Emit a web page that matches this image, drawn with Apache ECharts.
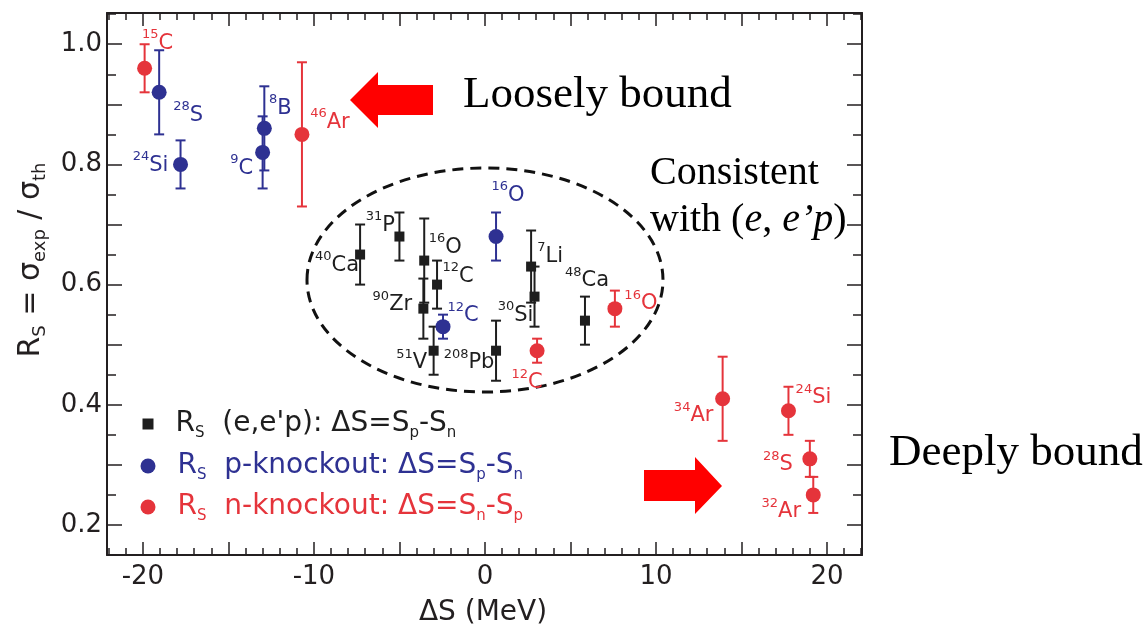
<!DOCTYPE html>
<html><head><meta charset="utf-8">
<script src="https://cdn.jsdelivr.net/npm/echarts@6/dist/echarts.min.js"></script>
<style>html,body{margin:0;padding:0;background:#fff}#c{width:1148px;height:630px}</style>
</head><body><div id="c"></div>
<script>
// ---------- data ----------
// (e,e'p) : black squares
const eepNames = ['40Ca','31P','16O','12C','90Zr','51V','208Pb','7Li','30Si','48Ca'];
const eepDS    = [-7.3, -5.0, -3.55, -2.8, -3.6, -3.0, 0.65, 2.7, 2.9, 5.85];
const eepRs    = [0.65, 0.68, 0.64, 0.60, 0.56, 0.49, 0.49, 0.63, 0.58, 0.54];
const eepErr   = [0.05, 0.04, 0.07, 0.04, 0.05, 0.04, 0.05, 0.06, 0.05, 0.04];
// p-knockout : blue circles
const pkoNames = ['28S','24Si','8B','9C','16O','12C'];
const pkoDS    = [-19.05, -17.8, -12.9, -13.0, 0.65, -2.45];
const pkoRs    = [0.92, 0.80, 0.86, 0.82, 0.68, 0.53];
const pkoErr   = [0.07, 0.04, 0.07, 0.06, 0.04, 0.02];
// n-knockout : red circles
const nkoNames = ['15C','46Ar','16O','12C','34Ar','24Si','28S','32Ar'];
const nkoDS    = [-19.9, -10.7, 7.6, 3.05, 13.9, 17.75, 19.0, 19.2];
const nkoRs    = [0.96, 0.85, 0.56, 0.49, 0.41, 0.39, 0.31, 0.25];
const nkoErr   = [0.04, 0.12, 0.03, 0.02, 0.07, 0.04, 0.03, 0.03];
// axis ticks / labels
const xLabelVals = [-20, -10, 0, 10, 20];
const xMajorTicks = [-20, -15, -10, -5, 0, 5, 10, 15, 20];
const yLabelVals = [0.2, 0.4, 0.6, 0.8, 1.0];
const yMajorTicks = [0.2, 0.3, 0.4, 0.5, 0.6, 0.7, 0.8, 0.9, 1.0];
const xMinorTicks = []; for (let v = -22; v <= 22; v++) xMinorTicks.push(v);
const yMinorTicks = []; for (let k = 3; k <= 21; k += 2) yMinorTicks.push(+(k * 0.05).toFixed(2));

// ---------- styling / layout ----------
const X_MIN = -22.1, X_MAX = 22.05, Y_MIN = 0.15, Y_MAX = 1.052;
const C_BLACK = '#1e1e1e', C_BLUE = '#2e3192', C_RED = '#e5343b', C_AX = '#231f20';
const SANS = 'DejaVu Sans', SERIF = 'Liberation Serif';
// label centre offsets (px) relative to each marker
const labelOffsets = {
  eep: {'40Ca':[-23,11],'31P':[-19,-11],'16O':[21,-13],'12C':[21,-8],'90Zr':[-31,-4],
        '51V':[-22,12],'208Pb':[-27,12],'7Li':[19,-10],'30Si':[-19,19],'48Ca':[2,-40]},
  pko: {'28S':[29,23],'24Si':[-30,1],'8B':[16,-20],'9C':[-21,16],'16O':[12,-41],'12C':[20,-11]},
  nko: {'15C':[13,-25],'46Ar':[28,-12],'16O':[26,-5],'12C':[-10,32],'34Ar':[-29,17],
        '24Si':[25,-13],'28S':[-32,6],'32Ar':[-32,17]}
};

function labelFor(key, color) {
  return {
    show: true, position: 'inside', align: 'center', verticalAlign: 'middle',
    formatter: p => { const m = p.name.match(/^(\d+)(\D+)$/); return '{s|' + m[1] + '}{e|' + m[2] + '}'; },
    rich: {
      s: {fontSize: 13, lineHeight: 13, verticalAlign: 'top', color: color, fontFamily: SANS},
      e: {fontSize: 21, lineHeight: 30, verticalAlign: 'middle', color: color, fontFamily: SANS}
    }
  };
}
function pts(key, names, ds, rs) {
  return names.map((n, i) => ({name: n, value: [ds[i], rs[i]],
    label: {offset: labelOffsets[key][n]}}));
}
function errData(ds, rs, er) { return ds.map((d, i) => [d, rs[i], er[i]]); }
function errRender(color) {
  return function (params, api) {
    const x = api.value(0), y = api.value(1), e = api.value(2);
    const t = api.coord([x, y + e]), b = api.coord([x, y - e]);
    const hw = 5, st = {stroke: color, lineWidth: 2};
    return {type: 'group', children: [
      {type: 'line', shape: {x1: t[0], y1: t[1], x2: b[0], y2: b[1]}, style: st},
      {type: 'line', shape: {x1: t[0] - hw, y1: t[1], x2: t[0] + hw, y2: t[1]}, style: st},
      {type: 'line', shape: {x1: b[0] - hw, y1: b[1], x2: b[0] + hw, y2: b[1]}, style: st}
    ]};
  };
}
function xAx(pos, ticks, len, labels, line) {
  return {type: 'value', gridIndex: 0, position: pos, min: X_MIN, max: X_MAX,
    axisLine: {show: line, onZero: false, lineStyle: {color: C_AX, width: 2}},
    axisTick: {show: true, inside: true, length: len, customValues: ticks, lineStyle: {color: C_AX, width: 1.5}},
    axisLabel: labels ? {show: true, customValues: xLabelVals, margin: 9, fontSize: 26, color: C_AX, fontFamily: SANS} : {show: false},
    splitLine: {show: false}};
}
function yAx(pos, ticks, len, labels, line) {
  return {type: 'value', gridIndex: 0, position: pos, min: Y_MIN, max: Y_MAX,
    axisLine: {show: line, onZero: false, lineStyle: {color: C_AX, width: 2}},
    axisTick: {show: true, inside: true, length: len, customValues: ticks, lineStyle: {color: C_AX, width: 1.5}},
    axisLabel: labels ? {show: true, customValues: yLabelVals, margin: 5, fontSize: 26, color: C_AX, fontFamily: SANS,
      formatter: v => (+v).toFixed(1)} : {show: false},
    splitLine: {show: false}};
}
function legendRich(color) {
  return {
    r: {fontSize: 28, lineHeight: 34, color: color, fontFamily: SANS, padding: [0, 0, 0, 17]},
    m: {fontSize: 28, lineHeight: 34, color: color, fontFamily: SANS},
    s: {fontSize: 15, lineHeight: 15, verticalAlign: 'bottom', color: color, fontFamily: SANS}
  };
}
const legendText = {
  eep: "{r|R}{s|S}{m|  (e,e'p): ΔS=S}{s|p}{m|-S}{s|n}",
  pko: "{r|R}{s|S}{m|  p-knockout: ΔS=S}{s|p}{m|-S}{s|n}",
  nko: "{r|R}{s|S}{m|  n-knockout: ΔS=S}{s|n}{m|-S}{s|p}"
};
function legendOf(name, icon, size, left, top, color) {
  return {data: [{name: name, icon: icon}], left: left, top: top, padding: 0, itemWidth: size, itemHeight: size,
    selectedMode: false, formatter: n => legendText[n],
    textStyle: {color: color, fontFamily: SANS, fontSize: 28, rich: legendRich(color)}};
}

const option = {
  animation: false,
  backgroundColor: '#fff',
  grid: {left: 107, right: 286, top: 13, bottom: 75, containLabel: false},
  xAxis: [xAx('bottom', xMajorTicks, 13, true, true), xAx('bottom', xMinorTicks, 7, false, false),
          xAx('top', xMajorTicks, 13, false, true), xAx('top', xMinorTicks, 7, false, false)],
  yAxis: [yAx('left', yMajorTicks, 15, true, true), yAx('left', yMinorTicks, 9, false, false),
          yAx('right', yMajorTicks, 15, false, true), yAx('right', yMinorTicks, 9, false, false)],
  legend: [
    legendOf('eep', 'rect', 11, 142.5, 410, C_BLACK),
    legendOf('pko', 'circle', 15, 140.5, 452, C_BLUE),
    legendOf('nko', 'circle', 15, 140.5, 493, C_RED)
  ],
  series: [
    {type: 'custom', name: 'eep-err', renderItem: errRender(C_BLACK), data: errData(eepDS, eepRs, eepErr), encode: {x: 0, y: 1}, z: 2},
    {type: 'custom', name: 'pko-err', renderItem: errRender(C_BLUE), data: errData(pkoDS, pkoRs, pkoErr), encode: {x: 0, y: 1}, z: 2},
    {type: 'custom', name: 'nko-err', renderItem: errRender(C_RED), data: errData(nkoDS, nkoRs, nkoErr), encode: {x: 0, y: 1}, z: 2},
    {type: 'scatter', name: 'eep', symbol: 'rect', symbolSize: 10, itemStyle: {color: C_BLACK, opacity: 1},
      data: pts('eep', eepNames, eepDS, eepRs), label: labelFor('eep', C_BLACK), z: 3},
    {type: 'scatter', name: 'pko', symbol: 'circle', symbolSize: 15, itemStyle: {color: C_BLUE, opacity: 1},
      data: pts('pko', pkoNames, pkoDS, pkoRs), label: labelFor('pko', C_BLUE), z: 3},
    {type: 'scatter', name: 'nko', symbol: 'circle', symbolSize: 15, itemStyle: {color: C_RED, opacity: 1},
      data: pts('nko', nkoNames, nkoDS, nkoRs), label: labelFor('nko', C_RED), z: 3}
  ],
  graphic: [
    {type: 'ellipse', shape: {cx: 485, cy: 280, rx: 178, ry: 112}, z: 1,
      style: {fill: 'none', stroke: '#111', lineWidth: 3, lineDash: [11, 7]}},
    {type: 'polygon', shape: {points: [[350,100],[378,72],[378,85],[433,85],[433,115],[378,115],[378,128]]}, style: {fill: '#ff0000'}},
    {type: 'polygon', shape: {points: [[722,486],[695,457],[695,470],[644,470],[644,501],[695,501],[695,514]]}, style: {fill: '#ff0000'}},
    {type: 'text', x: 463, y: 95, style: {text: 'Loosely bound', font: '45px "Liberation Serif"', fill: '#000', align: 'left', verticalAlign: 'middle'}},
    {type: 'text', x: 650, y: 173, style: {text: 'Consistent', font: '40px "Liberation Serif"', fill: '#000', align: 'left', verticalAlign: 'middle'}},
    {type: 'text', x: 650, y: 220, style: {text: '{n|with (}{i|e}{n|, }{i|e’p}{n|)}', align: 'left', verticalAlign: 'middle',
      rich: {n: {fontFamily: SERIF, fontSize: 40, fill: '#000'}, i: {fontFamily: SERIF, fontSize: 40, fontStyle: 'italic', fill: '#000'}}}},
    {type: 'text', x: 889, y: 453, style: {text: 'Deeply bound', font: '45px "Liberation Serif"', fill: '#000', align: 'left', verticalAlign: 'middle'}},
    {type: 'text', x: 483, y: 613, style: {text: 'ΔS (MeV)', font: '28px "DejaVu Sans"', fill: C_AX, align: 'center', verticalAlign: 'middle'}},
    {type: 'text', x: 31, y: 260, rotation: Math.PI / 2, style: {text: '{m|R}{s|S}{m| = σ}{s|exp}{m| / σ}{s|th}', align: 'center', verticalAlign: 'middle',
      rich: {m: {fontFamily: SANS, fontSize: 30, lineHeight: 36, fill: C_AX}, s: {fontFamily: SANS, fontSize: 18, lineHeight: 18, verticalAlign: 'bottom', fill: C_AX}}}}
  ]
};
const chart = echarts.init(document.getElementById('c'), null, {renderer: 'canvas'});
chart.setOption(option);
</script></body></html>
